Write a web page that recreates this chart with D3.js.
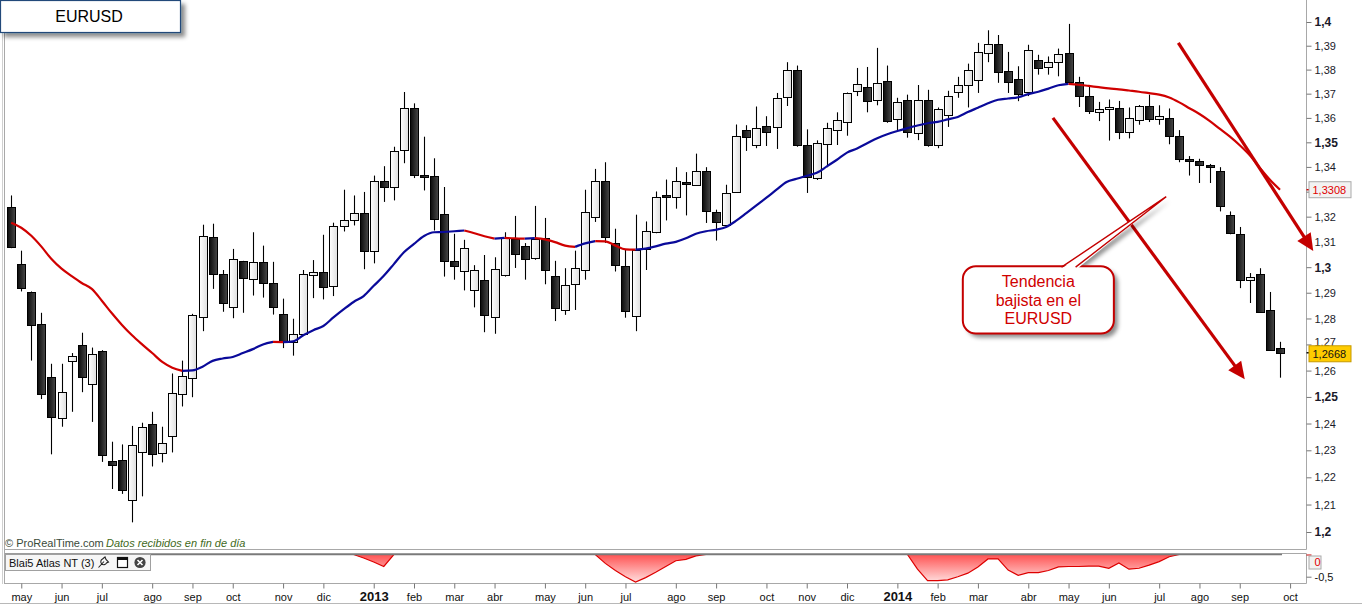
<!DOCTYPE html>
<html><head><meta charset="utf-8">
<script src="https://cdn.jsdelivr.net/npm/d3@7/dist/d3.min.js"></script>
<style>
html,body{margin:0;padding:0;background:#fff;overflow:hidden;}
svg{display:block;font-family:"Liberation Sans",Arial,sans-serif;}
</style></head><body>
<svg id="c" width="1362" height="605"></svg>
<script>
// ---------- DATA (weekly EURUSD, weeks starting Monday 30-Apr-2012) ----------
const opens = [1.3240,1.3011,1.2903,1.2780,1.2576,1.2419,1.2638,1.2696,1.2550,1.2675,
1.2261,1.2264,1.2118,1.2296,1.2399,1.2289,1.2354,1.2510,1.2573,1.2806,
1.3119,1.2975,1.2845,1.3023,1.2953,1.3019,1.2937,1.2818,1.2710,1.2737,
1.2972,1.2983,1.2926,1.3163,1.3187,1.3215,1.3065,1.3343,1.3319,1.3467,
1.3639,1.3367,1.3363,1.3211,1.3023,1.2983,1.2907,1.2949,1.2803,1.2970,
1.3112,1.3083,1.3035,1.3115,1.2965,1.2831,1.2933,1.2991,1.3199,1.3345,
1.3095,1.3003,1.2811,1.3072,1.3138,1.3287,1.3279,1.3339,1.3328,1.3385,
1.3219,1.3168,1.3301,1.3552,1.3489,1.3567,1.3563,1.3683,1.3797,1.3489,
1.3355,1.3495,1.3552,1.3583,1.3712,1.3728,1.3676,1.3751,1.3596,1.3673,
1.3539,1.3673,1.3487,1.3612,1.3707,1.3733,1.3758,1.3870,1.3907,1.3793,
1.3761,1.3705,1.3842,1.3811,1.3835,1.3870,1.3749,1.3692,1.3623,1.3633,
1.3640,1.3543,1.3589,1.3647,1.3596,1.3599,1.3527,1.3432,1.3426,1.3407,
1.3383,1.3205,1.3131,1.2950,1.2975,1.2831,1.2687];
const highs = [1.3285,1.3065,1.2905,1.2822,1.2626,1.2626,1.2667,1.2745,1.2688,1.2678,
1.2332,1.2322,1.2391,1.2403,1.2444,1.2388,1.2589,1.2638,1.2818,1.3168,
1.3172,1.2989,1.3072,1.3025,1.3138,1.3085,1.3021,1.2877,1.2799,1.2989,
1.3028,1.3128,1.3176,1.3308,1.3285,1.3299,1.3365,1.3403,1.3482,1.3707,
1.3660,1.3523,1.3435,1.3319,1.3132,1.3108,1.3008,1.3048,1.3039,1.3138,
1.3203,1.3095,1.3243,1.3195,1.3025,1.2996,1.3065,1.3308,1.3392,1.3419,
1.3152,1.3072,1.3208,1.3181,1.3301,1.3349,1.3399,1.3379,1.3454,1.3399,
1.3228,1.3328,1.3573,1.3570,1.3647,1.3607,1.3703,1.3831,1.3817,1.3553,
1.3508,1.3580,1.3623,1.3705,1.3807,1.3811,1.3891,1.3817,1.3683,1.3696,
1.3736,1.3716,1.3643,1.3712,1.3770,1.3825,1.3912,1.3965,1.3945,1.3874,
1.3814,1.3904,1.3862,1.3855,1.3888,1.3992,1.3770,1.3730,1.3666,1.3676,
1.3670,1.3643,1.3653,1.3696,1.3652,1.3639,1.3550,1.3444,1.3433,1.3412,
1.3399,1.3221,1.3159,1.2977,1.2996,1.2903,1.2710];
const lows = [1.3075,1.2905,1.2638,1.2492,1.2285,1.2388,1.2444,1.2518,1.2406,1.2257,
1.2157,1.2139,1.2035,1.2130,1.2240,1.2255,1.2292,1.2464,1.2499,1.2751,
1.2915,1.2826,1.2801,1.2822,1.2889,1.2881,1.2815,1.2686,1.2657,1.2732,
1.2879,1.2874,1.2887,1.3141,1.3165,1.2992,1.3015,1.3259,1.3265,1.3415,
1.3355,1.3305,1.3145,1.2963,1.2951,1.2909,1.2843,1.2747,1.2741,1.2963,
1.2997,1.2951,1.3029,1.2933,1.2790,1.2814,1.2833,1.2951,1.3179,1.3096,
1.2983,1.2803,1.2751,1.2989,1.3134,1.3185,1.3232,1.3205,1.3323,1.3175,
1.3105,1.3165,1.3299,1.3465,1.3476,1.3485,1.3473,1.3649,1.3482,1.3295,
1.3347,1.3399,1.3489,1.3527,1.3690,1.3623,1.3652,1.3580,1.3550,1.3519,
1.3509,1.3482,1.3476,1.3563,1.3683,1.3643,1.3703,1.3831,1.3745,1.3703,
1.3669,1.3690,1.3779,1.3779,1.3772,1.3745,1.3645,1.3616,1.3587,1.3507,
1.3513,1.3516,1.3572,1.3583,1.3572,1.3492,1.3419,1.3365,1.3335,1.3335,
1.3221,1.3130,1.2918,1.2860,1.2825,1.2675,1.2573];
const closes = [1.3080,1.2918,1.2776,1.2514,1.2425,1.2518,1.2657,1.2573,1.2663,1.2284,
1.2245,1.2155,1.2321,1.2388,1.2288,1.2328,1.2514,1.2580,1.2815,1.3125,
1.2972,1.2860,1.3031,1.2957,1.3019,1.2937,1.2843,1.2710,1.2741,1.2972,
1.2983,1.2926,1.3163,1.3187,1.3215,1.3065,1.3343,1.3319,1.3465,1.3639,
1.3365,1.3361,1.3191,1.3023,1.3003,1.3075,1.2987,1.2814,1.2991,1.3115,
1.3051,1.3031,1.3112,1.2987,1.2839,1.2930,1.2995,1.3219,1.3345,1.3123,
1.3008,1.2827,1.3068,1.3142,1.3279,1.3279,1.3343,1.3332,1.3383,1.3223,
1.3179,1.3295,1.3527,1.3523,1.3560,1.3543,1.3683,1.3797,1.3489,1.3361,
1.3499,1.3560,1.3591,1.3703,1.3741,1.3671,1.3745,1.3587,1.3667,1.3543,
1.3673,1.3487,1.3636,1.3690,1.3735,1.3797,1.3874,1.3907,1.3790,1.3749,
1.3699,1.3881,1.3807,1.3832,1.3867,1.3751,1.3690,1.3632,1.3636,1.3643,
1.3543,1.3599,1.3647,1.3593,1.3607,1.3527,1.3433,1.3428,1.3408,1.3403,
1.3243,1.3132,1.2950,1.2960,1.2827,1.2678,1.2668];
const movingAvg = [1.3176,1.3156,1.3124,1.3081,1.3032,1.2994,1.2965,1.2938,1.2915,1.2869,
1.2820,1.2775,1.2735,1.2700,1.2667,1.2633,1.2611,1.2599,1.2601,1.2615,
1.2637,1.2646,1.2652,1.2667,1.2682,1.2700,1.2710,1.2709,1.2712,1.2735,
1.2755,1.2771,1.2804,1.2835,1.2864,1.2887,1.2927,1.2966,1.3012,1.3059,
1.3092,1.3123,1.3138,1.3139,1.3142,1.3145,1.3134,1.3122,1.3113,1.3116,
1.3114,1.3113,1.3115,1.3110,1.3099,1.3085,1.3080,1.3094,1.3103,1.3102,
1.3085,1.3070,1.3069,1.3073,1.3082,1.3093,1.3100,1.3114,1.3132,1.3142,
1.3148,1.3159,1.3184,1.3214,1.3245,1.3276,1.3308,1.3339,1.3352,1.3364,
1.3376,1.3402,1.3429,1.3458,1.3475,1.3496,1.3517,1.3533,1.3546,1.3558,
1.3569,1.3578,1.3584,1.3594,1.3604,1.3624,1.3642,1.3660,1.3675,1.3680,
1.3685,1.3698,1.3708,1.3721,1.3735,1.3741,1.3737,1.3732,1.3727,1.3722,
1.3718,1.3713,1.3708,1.3702,1.3696,1.3684,1.3664,1.3640,1.3616,1.3588,
1.3556,1.3524,1.3488,1.3447,1.3396,1.3348,1.3308];
const indicator = [0,0,0,0,0,0,0,0,0,0,
0,0,0,0,0,0,0,0,0,0,
0,0,0,0,0,0,0,0,0,0,
0,0,0,0,0,-0.08,-0.17,-0.27,0,0,
0,0,0,0,0,0,0,0,0,0,
0,0,0,0,0,0,0,0,0,-0.20,
-0.36,-0.50,-0.62,-0.52,-0.40,-0.27,-0.14,-0.11,-0.03,0,
0,0,0,0,0,0,0,0,0,0,
0,0,0,0,0,0,0,0,0,0,
-0.33,-0.59,-0.59,-0.57,-0.50,-0.42,-0.28,-0.10,-0.10,-0.35,
-0.47,-0.41,-0.41,-0.36,-0.28,-0.27,-0.27,-0.26,-0.26,-0.31,
-0.19,-0.33,-0.31,-0.24,-0.16,-0.05,0,0,0,0,
0,0,0,0,0,0,0];
const priceTicks = [1.2,1.21,1.22,1.23,1.24,1.25,1.26,1.27,1.28,1.29,1.3,1.31,1.32,1.33,1.34,1.35,1.36,1.37,1.38,1.39,1.4];
const indicatorTicks = [0,-0.5];
const monthLabels = ["may","jun","jul","ago","sep","oct","nov","dic","2013","feb","mar","abr","may","jun","jul","ago","sep","oct","nov","dic","2014","feb","mar","abr","may","jun","jul","ago","sep","oct"];
const firstWeek = new Date(2012,3,30);
const lastPrice = 1.2668, lastAvg = 1.3308;
const titleText = "EURUSD";
const calloutLines = ["Tendencia","bajista en el","EURUSD"];

// ---------- SETUP ----------
const svg = d3.select("#c");
const defs = svg.append("defs");
function grad(id, c1, c2, vertical){
  const g = defs.append("linearGradient").attr("id",id)
    .attr("x1",0).attr("y1",0).attr("x2",vertical?0:1).attr("y2",vertical?1:0);
  g.append("stop").attr("offset","0%").attr("stop-color",c1);
  g.append("stop").attr("offset","100%").attr("stop-color",c2);
  return g;
}
grad("gDark","#0b0b0b","#484848",false);
grad("gLight","#ffffff","#dedede",false);
const sh = defs.append("filter").attr("id","shadow").attr("x","-20%").attr("y","-20%").attr("width","150%").attr("height","160%");
sh.append("feDropShadow").attr("dx",4).attr("dy",4).attr("stdDeviation",2).attr("flood-color","#000").attr("flood-opacity",0.45);
defs.append("clipPath").attr("id","plotClip").append("rect").attr("x",5).attr("y",0).attr("width",1301).attr("height",549);

const n = opens.length;
const dates = d3.range(n+1).map(i => d3.timeMonday.offset(firstWeek, i));
const x = d3.scaleLinear().domain([0, n-1]).range([11.2, 11.2 + 10.07*(n-1)]);
const y = d3.scaleLog().domain([1.2, 1.4]).range([532, 22]);
const yi = d3.scaleLinear().domain([0, -0.5]).range([554.5, 576.7]);

// frame lines
const frame = svg.append("g").attr("stroke","#a8a8a8").attr("stroke-width",1).attr("fill","none");
frame.append("line").attr("x1",2.5).attr("x2",2.5).attr("y1",0).attr("y2",584).attr("stroke","#d0d0d0");
frame.append("line").attr("x1",4.5).attr("x2",4.5).attr("y1",0).attr("y2",584);
frame.append("line").attr("x1",4.5).attr("x2",1306.5).attr("y1",549.5).attr("y2",549.5);
frame.append("line").attr("x1",1306.5).attr("x2",1306.5).attr("y1",0).attr("y2",549.5);
frame.append("line").attr("x1",4.5).attr("x2",1306.5).attr("y1",553.5).attr("y2",553.5);
frame.append("line").attr("x1",1306.5).attr("x2",1306.5).attr("y1",553.5).attr("y2",583.5);
frame.append("line").attr("x1",4.5).attr("x2",1306.5).attr("y1",583.5).attr("y2",583.5);
frame.append("line").attr("x1",0).attr("x2",1362).attr("y1",603.5).attr("y2",603.5).attr("stroke","#b8b8b8");

// ---------- CANDLES ----------
const plot = svg.append("g").attr("clip-path","url(#plotClip)");
const candles = plot.append("g");
d3.range(n).forEach(i => {
  const o=opens[i], h=highs[i], l=lows[i], c=closes[i];
  const xc = Math.round(x(i)) + 0.5;
  const up = c >= o;
  candles.append("line").attr("x1",xc).attr("x2",xc)
    .attr("y1",y(h)).attr("y2",y(l)).attr("stroke","#000").attr("stroke-width",1.1);
  const top = y(Math.max(o,c)), bot = y(Math.min(o,c));
  const hgt = Math.max(2, bot-top);
  candles.append("rect").attr("x",xc-4).attr("y",Math.round(top)+0.5)
    .attr("width",8).attr("height",Math.round(hgt))
    .attr("fill", up ? "url(#gLight)" : "url(#gDark)")
    .attr("stroke","#000").attr("stroke-width",1);
});

// ---------- MOVING AVERAGE (coloured by slope) ----------
const maLine = d3.line().x(d=>x(d.i)).y(d=>y(d.v)).curve(d3.curveMonotoneX);
let runs = [];
for (let i=1;i<n;i++){
  const col = movingAvg[i] >= movingAvg[i-1] ? "#0a0a9a" : "#d00000";
  if (!runs.length || runs[runs.length-1].col !== col) runs.push({col, pts:[{i:i-1,v:movingAvg[i-1]}]});
  runs[runs.length-1].pts.push({i, v:movingAvg[i]});
}
runs.forEach(r => plot.append("path").attr("d", maLine(r.pts)).attr("fill","none")
  .attr("stroke", r.col).attr("stroke-width",2.2).attr("stroke-linejoin","round"));

// ---------- INDICATOR PANEL ----------
const ig = defs.append("linearGradient").attr("id","gInd").attr("gradientUnits","userSpaceOnUse")
  .attr("x1",0).attr("x2",0).attr("y1",554).attr("y2",583);
ig.append("stop").attr("offset","0%").attr("stop-color","#ff5050");
ig.append("stop").attr("offset","100%").attr("stop-color","#ffe4e4");
const indData = indicator.map((v,i)=>({i,v}));
svg.append("path").attr("d", d3.area().x(d=>x(d.i)).y0(yi(0)).y1(d=>yi(d.v))(indData))
  .attr("fill","url(#gInd)");
svg.append("path").attr("d", d3.line().x(d=>x(d.i)).y(d=>yi(d.v))(indData))
  .attr("fill","none").attr("stroke","#dd0000").attr("stroke-width",1.2);
svg.append("line").attr("x1",5).attr("x2",x(n-1)+2).attr("y1",yi(0)).attr("y2",yi(0))
  .attr("stroke","#7a7a7a").attr("stroke-width",1.5);

// indicator label box
const lb = svg.append("g");
lb.append("rect").attr("x",5.5).attr("y",554.5).attr("width",145).attr("height",16)
  .attr("fill","#f6f6f6").attr("stroke","#a0a0a0");
lb.append("text").attr("x",9).attr("y",566.5).attr("font-size",11).attr("fill","#111").text("Blai5 Atlas NT (3)");
lb.append("path").attr("d","M98.5,567.5 L104,561.5 M102.5,559 a3,3 0 1 0 4,4 l2,-1 l-2.5,-2.5 l-1,-2.5 z")
  .attr("fill","none").attr("stroke","#222").attr("stroke-width",1.1);
lb.append("rect").attr("x",117.5).attr("y",557.5).attr("width",10).attr("height",10).attr("fill","#fff").attr("stroke","#111").attr("stroke-width",1.2);
lb.append("rect").attr("x",117.5).attr("y",557.5).attr("width",10).attr("height",2.5).attr("fill","#111");
lb.append("circle").attr("cx",140).attr("cy",562.5).attr("r",5.6).attr("fill","#444");
lb.append("path").attr("d","M137.5,560 L142.5,565 M142.5,560 L137.5,565").attr("stroke","#fff").attr("stroke-width",1.6);

// ---------- AXES ----------
const fmt = d => String(+d.toFixed(2)).replace(".",",");
const isMajor = d => Math.abs(d*20 - Math.round(d*20))<1e-6;
const near = (a,b) => Math.abs(y(a)-y(b)) < 9;
const yAxis = d3.axisRight(y).tickValues(priceTicks).tickFormat(fmt).tickSize(5).tickPadding(3);
const ya = svg.append("g").attr("transform","translate(1306.5,0)").call(yAxis);
ya.select(".domain").remove();
ya.selectAll(".tick line").attr("stroke","#777");
ya.selectAll("text").attr("font-family","Liberation Sans, Arial, sans-serif").attr("fill","#1a1a2a")
  .attr("font-weight", d => isMajor(d) ? "bold" : "normal")
  .attr("font-size", d => isMajor(d) ? 12 : 11);
// label hidden behind the moving-average marker, as in the reference
ya.selectAll(".tick").filter(d => near(d,lastAvg)).select("text").attr("visibility","hidden");
// label partly covered by the last-price marker: keep only its visible upper part
ya.selectAll(".tick").filter(d => near(d,lastPrice)).select("text").attr("y",-2);

const iAxis = d3.axisRight(yi).tickValues(indicatorTicks).tickFormat(d=>fmt(d)).tickSize(5).tickPadding(3);
const ia = svg.append("g").attr("transform","translate(1306.5,0)").call(iAxis);
ia.select(".domain").remove();
ia.selectAll(".tick line").attr("stroke", d => d===0 ? "#d00000" : "#777");
ia.selectAll("text").attr("font-family","Liberation Sans, Arial, sans-serif").attr("font-size",11).attr("fill","#111");
ia.selectAll(".tick").filter(d=>d===0).select("text").attr("y",7).attr("fill","#e00000");
ia.selectAll(".tick").filter(d=>d===0).insert("rect","text").attr("x",2.5).attr("y",1).attr("width",12).attr("height",13)
  .attr("fill","#f2f2f2").attr("stroke","#aaa");

const tickIdx = [];
for (let i=1;i<=n;i++) if (dates[i].getMonth() !== dates[i-1].getMonth()) tickIdx.push(i);
const xAxis = d3.axisBottom(x).tickValues(tickIdx).tickFormat((d,k)=>monthLabels[k]).tickSize(5).tickSizeOuter(0);
const xa = svg.append("g").attr("transform","translate(0,583.5)").call(xAxis);
xa.select(".domain").remove();
xa.selectAll(".tick line").attr("stroke","#777");
xa.selectAll("text").attr("font-family","Liberation Sans, Arial, sans-serif").attr("y",17).attr("dy",0)
  .attr("fill","#111")
  .attr("font-size",(d,k)=>/^\d{4}$/.test(monthLabels[k])?13:11)
  .attr("font-weight",(d,k)=>/^\d{4}$/.test(monthLabels[k])?"bold":"normal");

const fmt4 = v => v.toFixed(4).replace(".",",");
function marker(v, fill, stroke, tcol, tickCol, dyBox){
  const g = svg.append("g").attr("transform",`translate(1306.5,${y(v)})`);
  g.append("line").attr("x1",0).attr("x2",5).attr("stroke",tickCol).attr("stroke-width",1.5);
  g.append("rect").attr("x",2.5).attr("y",-8+dyBox).attr("width",42).attr("height",16).attr("fill",fill).attr("stroke",stroke);
  g.append("text").attr("x",6).attr("y",4+dyBox).attr("font-size",11).attr("fill",tcol).text(fmt4(v));
}
marker(lastAvg,"#f2f2f2","#aaa","#e00000","#d00000",0);
marker(lastPrice,"#ffcc00","#c79a00","#111","#111",1);

// ---------- TEXTS ----------
svg.append("text").attr("x",5).attr("y",547).attr("font-size",11).attr("fill","#3a4a3a").text("© ProRealTime.com");
svg.append("text").attr("x",106).attr("y",547).attr("font-size",11).attr("font-style","italic").attr("fill","#3f6a1c").text("Datos recibidos en fin de día");

const tb = svg.append("g");
tb.append("rect").attr("x",0.5).attr("y",0.5).attr("width",180).attr("height",32)
  .attr("fill","#fff").attr("stroke","#23497a").attr("stroke-width",1.2).attr("filter","url(#shadow)");
tb.append("text").attr("x",89).attr("y",22).attr("text-anchor","middle").attr("font-size",16).attr("fill","#000").text(titleText);

// ---------- ANNOTATIONS (in data coordinates) ----------
function arrow(i1,p1,i2,p2){
  const ax=x(i1), ay=y(p1), bx=x(i2), by=y(p2);
  const dx=bx-ax, dy=by-ay, L=Math.hypot(dx,dy), ux=dx/L, uy=dy/L;
  const hl=17, hw=8;
  const cx=bx-ux*hl, cy=by-uy*hl;
  svg.append("line").attr("x1",ax).attr("y1",ay).attr("x2",cx+ux*2).attr("y2",cy+uy*2)
    .attr("stroke","#c40000").attr("stroke-width",3.2);
  svg.append("path").attr("d",`M${bx},${by}L${cx-uy*hw},${cy+ux*hw}L${cx+uy*hw},${cy-ux*hw}Z`).attr("fill","#c40000");
}
arrow(103.45,1.3600,122.5,1.2567);
arrow(115.9,1.3912,129.3,1.3064);

const cx0=x(94.5), cx1=x(109.5), cy0=y(1.3004), cy1=y(1.2742);
const bl=[x(104.3),cy0+1], br=[x(105.7),cy0+1], tip=[x(114.7),y(1.328)];
const ptr = `M${bl[0]},${bl[1]}L${tip[0]},${tip[1]}L${br[0]},${br[1]}Z`;
const co = svg.append("g");
const shg = co.append("g").attr("filter","url(#shadow)");
shg.append("rect").attr("x",cx0).attr("y",cy0).attr("width",cx1-cx0).attr("height",cy1-cy0).attr("rx",13).attr("fill","#fff");
shg.append("path").attr("d",ptr).attr("fill","#fff");
co.append("rect").attr("x",cx0).attr("y",cy0).attr("width",cx1-cx0).attr("height",cy1-cy0).attr("rx",13)
  .attr("fill","#fff").attr("stroke","#c40000").attr("stroke-width",2);
co.append("path").attr("d",`M${bl[0]-1},${bl[1]+2}L${tip[0]},${tip[1]}L${br[0]+1},${br[1]+2}Z`).attr("fill","#fff");
co.append("path").attr("d",`M${bl[0]},${bl[1]}L${tip[0]},${tip[1]}L${br[0]},${br[1]}`).attr("fill","none")
  .attr("stroke","#c40000").attr("stroke-width",1.4);
calloutLines.forEach((t,k)=>{
  co.append("text").attr("x",(cx0+cx1)/2).attr("y",cy0+21+k*18.5).attr("text-anchor","middle")
    .attr("font-size",16).attr("fill","#d00000").text(t);
});
</script>
</body></html>
